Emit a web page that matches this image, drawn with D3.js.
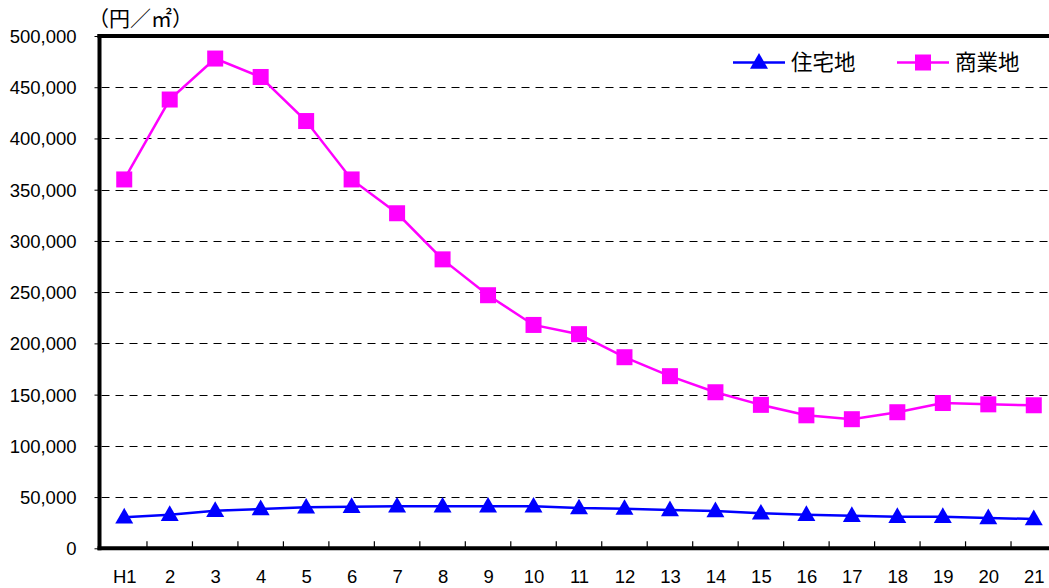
<!DOCTYPE html>
<html>
<head>
<meta charset="utf-8">
<script src="https://cdn.jsdelivr.net/npm/d3@7/dist/d3.min.js"></script>
<style>
 body { margin: 0; background: #fff; }
 text { font-family: "Liberation Sans", "Noto Sans CJK JP", sans-serif; fill: #000; }
 .jp { font-family: "Noto Sans CJK JP", sans-serif; }
</style>
</head>
<body>
<script>
'use strict'
// 住宅地・商業地の平均地価 (H1〜21)

const years = ["H1", "2", "3", "4", "5", "6", "7", "8", "9", "10", "11",
 "12", "13", "14", "15", "16", "17", "18", "19", "20", "21"];
const residential = [30300, 32800, 36700, 38400, 40000, 40600, 41000, 41000, 41000, 41000, 39300,
 38700, 37400, 36400, 34200, 32800, 31800, 30800, 30800, 29600, 28600];
const commercial = [360000, 438000, 478000, 460000, 417000, 360000, 327000, 282000, 247000, 218000, 209000,
 186500, 168000, 152300, 140000, 129800, 126000, 132800, 141800, 140500, 139600];
const yTicks = [0, 50000, 100000, 150000, 200000, 250000, 300000, 350000, 400000, 450000, 500000];

const W = 1049, H = 588;
const plotLeft = 101.5, plotRight = 1056.5, plotTop = 36, plotBottom = 548.3;

let svg = d3.select("body").append("svg")
 .attr("width", W)
 .attr("height", H);

let x = d3.scalePoint()
 .domain(years)
 .range([plotLeft, plotRight])
 .padding(0.5);

let y = d3.scaleLinear()
 .domain([0, 500000])
 .range([plotBottom, plotTop]);

// gridlines
svg.append("g")
 .selectAll("line")
 .data(yTicks.filter(d => d > 0 && d < 500000))
 .join("line")
 .attr("x1", plotLeft)
 .attr("x2", W)
 .attr("y1", d => Math.round(y(d)) + 0.5)
 .attr("y2", d => Math.round(y(d)) + 0.5)
 .attr("stroke", "#000")
 .attr("stroke-width", 1)
 .attr("stroke-dasharray", "8,6");

// y axis
let yAxis = svg.append("g")
 .attr("transform", "translate(" + (plotLeft - 2) + ",0)")
 .call(d3.axisLeft(y).tickValues(yTicks).tickSize(5).tickPadding(18).tickFormat(d3.format(",")));
yAxis.select(".domain").remove();
yAxis.selectAll("text").attr("font-size", "18.5px").attr("dy", "0.35em").style("font-family", "'Liberation Sans', sans-serif");
yAxis.selectAll("line").attr("stroke", "#000");

// x axis labels
let xAxis = svg.append("g")
 .attr("transform", "translate(0," + plotBottom + ")")
 .call(d3.axisBottom(x).tickSize(0).tickPadding(22));
xAxis.select(".domain").remove();
xAxis.selectAll("text").attr("font-size", "18.5px").attr("dy", "0.71em").style("font-family", "'Liberation Sans', sans-serif");

// x tick marks between categories
let step = x.step();
svg.append("g")
 .selectAll("line")
 .data(years.slice(1))
 .join("line")
 .attr("x1", d => x(d) - step / 2)
 .attr("x2", d => x(d) - step / 2)
 .attr("y1", plotBottom - 7)
 .attr("y2", plotBottom)
 .attr("stroke", "#000")
 .attr("stroke-width", 1.2);

// frame: left, bottom, top
svg.append("line").attr("x1", plotLeft - 2).attr("x2", plotLeft - 2).attr("y1", plotTop - 2).attr("y2", plotBottom + 2)
 .attr("stroke", "#000").attr("stroke-width", 4);
svg.append("line").attr("x1", plotLeft - 4).attr("x2", W).attr("y1", plotBottom).attr("y2", plotBottom)
 .attr("stroke", "#000").attr("stroke-width", 4);
svg.append("line").attr("x1", plotLeft - 4).attr("x2", W).attr("y1", plotTop).attr("y2", plotTop)
 .attr("stroke", "#000").attr("stroke-width", 4);

// unit label
svg.append("text")
 .attr("class", "jp")
 .attr("x", 88)
 .attr("y", 26)
 .attr("font-size", "21px")
 .text("（円／㎡）");

let line = d3.line()
 .x((d, i) => x(years[i]))
 .y(d => y(d));

// 商業地
svg.append("path")
 .datum(commercial)
 .attr("d", line)
 .attr("fill", "none")
 .attr("stroke", "#ff00ff")
 .attr("stroke-width", 2.5);
svg.append("g")
 .selectAll("rect")
 .data(commercial)
 .join("rect")
 .attr("x", (d, i) => x(years[i]) - 8)
 .attr("y", d => y(d) - 8)
 .attr("width", 16)
 .attr("height", 16)
 .attr("fill", "#ff00ff");

// 住宅地
svg.append("path")
 .datum(residential)
 .attr("d", line)
 .attr("fill", "none")
 .attr("stroke", "#0000ff")
 .attr("stroke-width", 2.5);
let tri = d3.symbol().type(d3.symbolTriangle).size(140);
svg.append("g")
 .selectAll("path")
 .data(residential)
 .join("path")
 .attr("d", tri)
 .attr("transform", (d, i) => "translate(" + x(years[i]) + "," + (y(d) + 1) + ")")
 .attr("fill", "#0000ff");

// legend
let legend = [
 { name: "住宅地", color: "#0000ff", shape: "tri", x0: 733 },
 { name: "商業地", color: "#ff00ff", shape: "sq", x0: 897 }
];
let ly = 62.5;
legend.forEach(function (l) {
 svg.append("line")
  .attr("x1", l.x0).attr("x2", l.x0 + 52)
  .attr("y1", ly).attr("y2", ly)
  .attr("stroke", l.color).attr("stroke-width", 2.5);
 if (l.shape == "tri") {
  svg.append("path").attr("d", tri)
   .attr("transform", "translate(" + (l.x0 + 26) + "," + (ly + 1) + ")")
   .attr("fill", l.color);
 } else {
  svg.append("rect").attr("x", l.x0 + 18).attr("y", ly - 8)
   .attr("width", 16).attr("height", 16).attr("fill", l.color);
 }
 svg.append("text")
  .attr("class", "jp")
  .attr("x", l.x0 + 58)
  .attr("y", ly + 7.5)
  .attr("font-size", "21.5px")
  .text(l.name);
});
</script>
</body>
</html>
